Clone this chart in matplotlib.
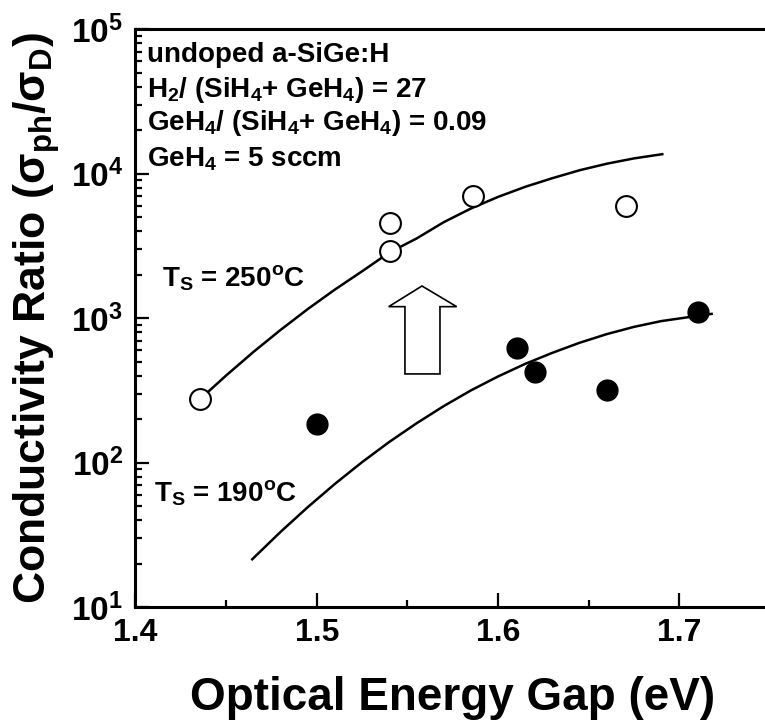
import numpy as np
import matplotlib
matplotlib.use("Agg")
import matplotlib.pyplot as plt
from matplotlib.patches import Polygon
from matplotlib.ticker import LogLocator, MultipleLocator, FormatStrFormatter

plt.rcParams['font.family'] = ['Liberation Sans', 'DejaVu Sans']
plt.rcParams['font.weight'] = 'bold'
plt.rcParams['mathtext.fontset'] = 'custom'
plt.rcParams['mathtext.rm'] = 'Liberation Sans:bold'
plt.rcParams['mathtext.bf'] = 'Liberation Sans:bold'
plt.rcParams['mathtext.it'] = 'Liberation Sans:bold'
plt.rcParams['mathtext.default'] = 'rm'

# measured points, Ts = 250 C (open) and Ts = 190 C (filled)
eg_250 = [1.4356, 1.5404, 1.5404, 1.5863, 1.6705]
ratio_250 = [275, 4600, 2900, 7050, 6000]
eg_190 = [1.5003, 1.6104, 1.6203, 1.6600, 1.7104]
ratio_190 = [185, 621, 421, 319, 1100]

# fitted trend lines
fit_250_x = [1.4356, 1.450, 1.465, 1.480, 1.495, 1.510, 1.525, 1.540, 1.555,
             1.570, 1.585, 1.600, 1.615, 1.630, 1.645, 1.660, 1.675, 1.6906]
fit_250_y = [275, 401, 583, 829, 1156, 1579, 2113, 2850, 3562,
             4620, 5750, 6920, 8130, 9330, 10590, 11750, 12790, 13680]
fit_190_x = [1.4644, 1.480, 1.495, 1.510, 1.525, 1.540, 1.555, 1.570, 1.585,
             1.600, 1.615, 1.630, 1.645, 1.660, 1.675, 1.690, 1.7178]
fit_190_y = [21.4, 33.1, 49.1, 71.2, 100.7, 139, 187, 246, 316,
             395, 483, 576, 676, 776, 871, 955, 1072]

fig = plt.figure(figsize=(7.65, 7.27), dpi=100)
ax = fig.add_axes([0.1771, 0.1651, 0.8294, 0.7944])

ax.plot(fit_250_x, fit_250_y, color='black', lw=1.8)
ax.plot(fit_190_x, fit_190_y, color='black', lw=1.8)
ax.plot(eg_250, ratio_250, 'o', ms=15, mfc='white', mec='black', mew=1.5)
ax.plot(eg_190, ratio_190, 'o', ms=15, mfc='black', mec='black')

ax.set_yscale('log')
ax.set_xlim(1.4, 1.75)
ax.set_ylim(10, 1e5)
ax.xaxis.set_major_locator(MultipleLocator(0.1))
ax.xaxis.set_minor_locator(MultipleLocator(0.05))
ax.yaxis.set_major_locator(LogLocator(base=10))
ax.yaxis.set_minor_locator(LogLocator(base=10, subs=np.arange(2, 10)))
ax.xaxis.set_major_formatter(FormatStrFormatter('%.1f'))

ax.tick_params(which='both', direction='in', width=1.6, top=False, right=False)
ax.tick_params(which='major', length=10)
ax.tick_params(which='minor', length=5)
ax.tick_params(axis='x', pad=8, labelsize=23)
ax.tick_params(axis='y', pad=9, labelsize=24)

for side in ['left', 'bottom', 'top']:
    ax.spines[side].set_linewidth(2.2)
ax.spines['right'].set_visible(False)

ax.set_xlabel('Optical Energy Gap (eV)', fontsize=33, fontweight='bold', labelpad=20)
ax.set_ylabel('Conductivity Ratio ($σ_{ph}/σ_{D}$)', fontsize=32, fontweight='bold', labelpad=6)

# sample conditions
info = ['undoped a-SiGe:H',
        'H$_{2}$/ (SiH$_{4}$+ GeH$_{4}$) = 27',
        'GeH$_{4}$/ (SiH$_{4}$+ GeH$_{4}$) = 0.09',
        'GeH$_{4}$ = 5 sccm']
for txt, yy in zip(info, [0.944, 0.8836, 0.826, 0.762]):
    ax.text(0.0177, yy, txt, transform=ax.transAxes, fontsize=20,
            fontweight='bold', va='baseline', ha='left')

ax.text(0.0413, 0.5546, 'T$_{S}$ = 250$^{o}$C', transform=ax.transAxes,
        fontsize=20, fontweight='bold', va='baseline')
ax.text(0.0292, 0.1823, 'T$_{S}$ = 190$^{o}$C', transform=ax.transAxes,
        fontsize=20, fontweight='bold', va='baseline')

# hollow arrow pointing up
arrow = Polygon([(0.4515, 0.5558), (0.5062, 0.52), (0.4799, 0.52),
                 (0.4799, 0.4035), (0.4247, 0.4035), (0.4247, 0.52),
                 (0.3991, 0.52)], closed=True, transform=ax.transAxes,
                facecolor='white', edgecolor='black', lw=1.2)
ax.add_patch(arrow)

fig.savefig('out.png', dpi=100)
